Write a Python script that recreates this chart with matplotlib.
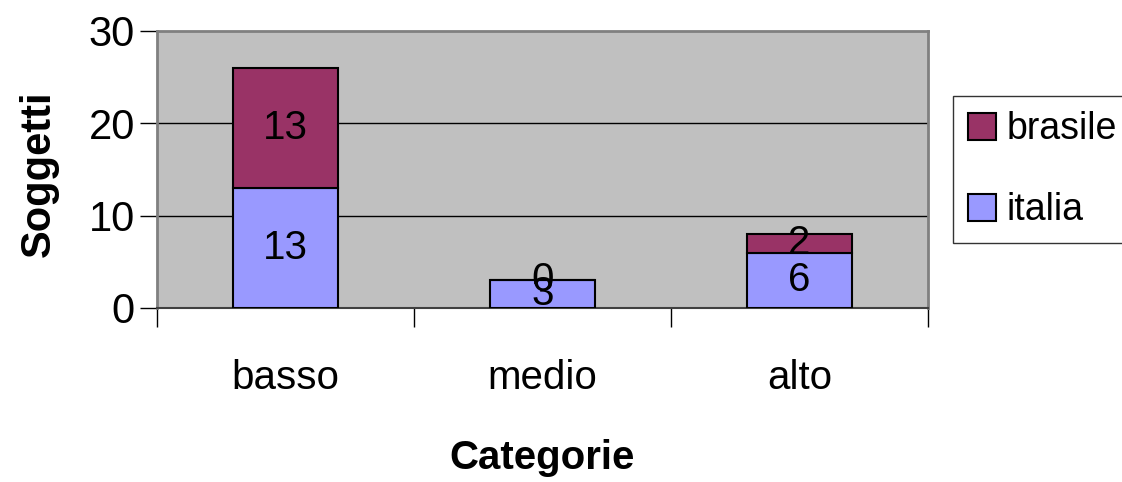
import numpy as np
import matplotlib.pyplot as plt

plt.rcParams['font.family'] = ['Liberation Sans', 'DejaVu Sans']

# dati
categorie = ['basso', 'medio', 'alto']
italia = [13, 3, 6]
brasile = [13, 0, 2]

fig = plt.figure(figsize=(11.22, 4.82), dpi=100)
ax = fig.add_axes([0.140, 0.361, 0.687, 0.575])
ax.set_facecolor('#C0C0C0')

x = np.arange(len(categorie))
w = 0.41
b1 = ax.bar(x, italia, w, color='#9999FF', edgecolor='black', linewidth=1.5, label='italia', zorder=3)
b2 = ax.bar(x, brasile, w, bottom=italia, color='#993366', edgecolor='black', linewidth=1.5, label='brasile', zorder=3)

# etichette dei valori
for i in range(len(categorie)):
    ax.text(x[i], italia[i] / 2, str(italia[i]), ha='center', va='center', fontsize=29, zorder=4)
    ax.text(x[i], italia[i] + brasile[i] / 2, str(brasile[i]), ha='center', va='center', fontsize=29, zorder=4)

ax.set_xlim(-0.5, 2.5)
ax.set_ylim(0, 30)
ax.set_yticks([0, 10, 20, 30])
ax.tick_params(axis='y', labelsize=30, length=12, width=1, direction='out', pad=4)
ax.set_xticks([-0.5, 0.5, 1.5, 2.5])
ax.set_xticklabels([])
ax.tick_params(axis='x', length=14, width=1, direction='out')
for xi, c in zip(x, categorie):
    ax.text(xi, -7.6, c, ha='center', va='center', fontsize=29)

for yv in [10, 20]:
    ax.axhline(yv, color='black', linewidth=1, zorder=1)

for s in ['top', 'right', 'left']:
    ax.spines[s].set_color('#808080')
    ax.spines[s].set_linewidth(2)
ax.spines['bottom'].set_color('#404040')
ax.spines['bottom'].set_linewidth(1.5)

fig.text(0.035, 0.64, 'Soggetti', rotation=90, ha='center', va='center', fontsize=30, fontweight='bold')
fig.text(0.483, 0.05, 'Categorie', ha='center', va='center', fontsize=29, fontweight='bold')

leg = fig.legend(handles=[b2, b1], labels=['brasile', 'italia'], loc='upper left',
                 bbox_to_anchor=(0.849, 0.80), fontsize=27, frameon=True, fancybox=False,
                 handlelength=0.75, handleheight=0.75, handletextpad=0.3, labelspacing=1.2,
                 borderpad=0.4, borderaxespad=0, edgecolor='black')
leg.get_frame().set_linewidth(1)

fig.savefig('out.png', dpi=100)
